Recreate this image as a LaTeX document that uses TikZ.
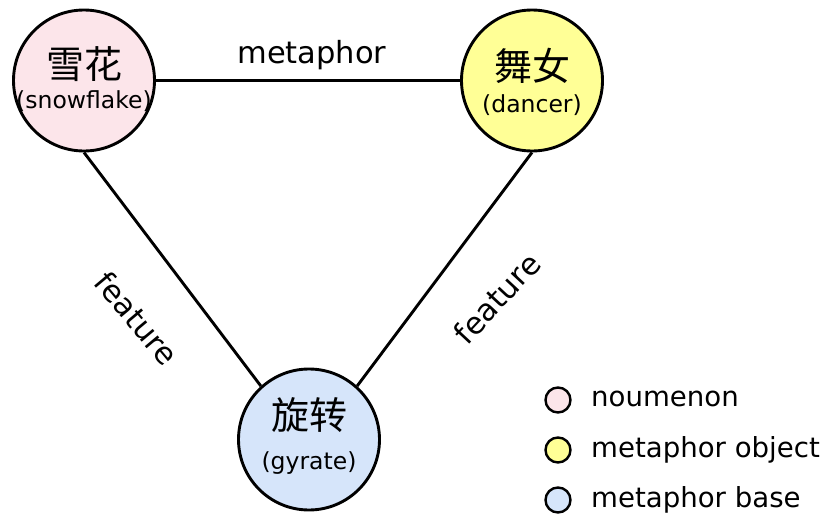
\documentclass[tikz,border=0pt]{standalone}
\usepackage{fontspec}
\setmainfont{DejaVu Sans}
\newfontfamily\cjk{Noto Sans CJK SC}
\definecolor{pinkfill}{RGB}{252,229,234}
\definecolor{yellowfill}{RGB}{255,255,150}
\definecolor{bluefill}{RGB}{214,229,250}
\begin{document}
\begin{tikzpicture}[x=1pt,y=-1pt,
  bubble/.style={circle, draw=black, line width=2.9pt, minimum size=141pt, inner sep=0pt},
  cn/.style={font=\cjk\fontsize{38}{38}\selectfont, inner sep=0pt},
  en/.style={font=\fontsize{23.5}{24}\selectfont, inner sep=0pt},
  lbl/.style={font=\fontsize{30.5}{31}\selectfont, inner sep=0pt},
  key/.style={circle, draw=black, line width=2.4pt, minimum size=25pt, inner sep=0pt},
  keytext/.style={font=\fontsize{27.6}{28}\selectfont, anchor=base west, inner sep=0pt},
  link/.style={line width=2.9pt}]
\useasboundingbox (0,0) rectangle (823,514);
\node[bubble, fill=pinkfill] (snow) at (84,80.5) {};
\node[bubble, fill=yellowfill] (dancer) at (532,80.5) {};
\node[bubble, fill=bluefill] (gyr) at (309,439.5) {};
\draw[link] (snow.east) -- (dancer.west);
\draw[link] (snow.south) -- (gyr.132);
\draw[link] (dancer.south) -- (gyr.48);
\node[cn] (snowcn) at (84,64) {雪花};
\node[en] (snowen) at (84,101) {(snowflake)};
\node[cn] (dancercn) at (532,66) {舞女};
\node[en] (danceren) at (532,105) {(dancer)};
\node[cn] (gyrcn) at (309,415) {旋转};
\node[en] (gyren) at (309,463) {(gyrate)};
\node[lbl, anchor=base] (metaphor) at (312,63) {metaphor};
\node[lbl, rotate=-50] (featL) at (137,318) {feature};
\node[lbl, rotate=47] (featR) at (497,298) {feature};
\node[key, fill=pinkfill] (k1) at (558,400) {};
\node[key, fill=yellowfill] (k2) at (558,450) {};
\node[key, fill=bluefill] (k3) at (558,500) {};
\node[keytext] (t1) at (591,406) {noumenon};
\node[keytext] (t2) at (591,457) {metaphor object};
\node[keytext] (t3) at (591,507) {metaphor base};
\end{tikzpicture}
\end{document}
